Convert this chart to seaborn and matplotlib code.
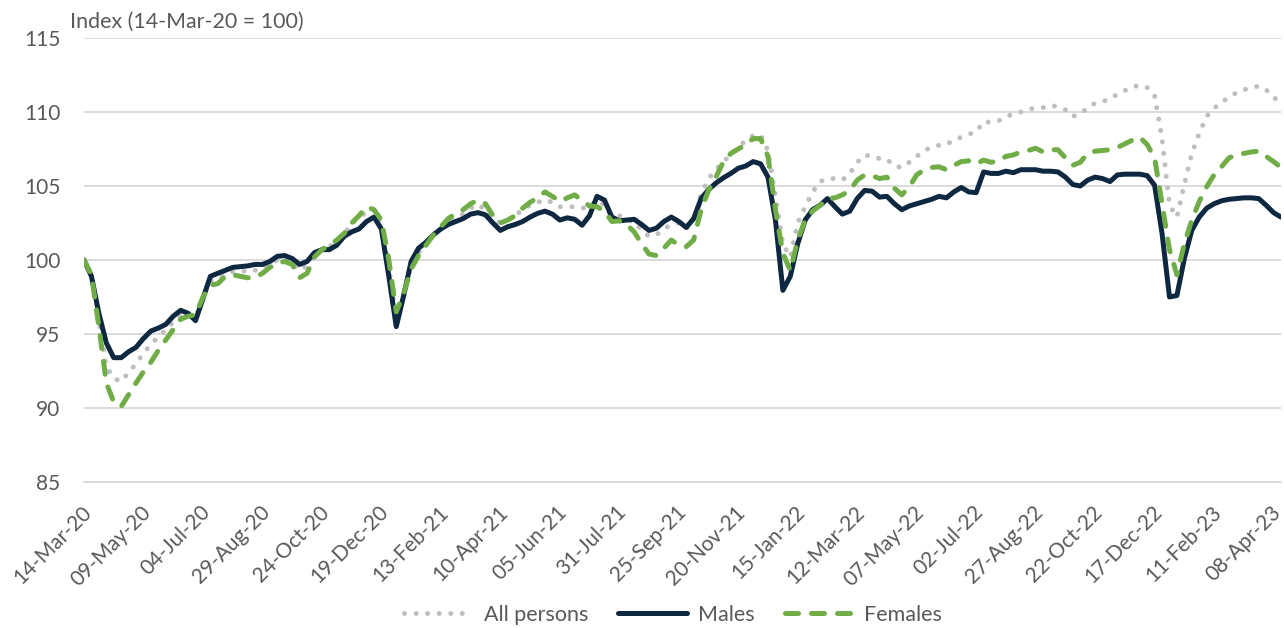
import numpy as np
import pandas as pd
import matplotlib
matplotlib.use("Agg")
import matplotlib.pyplot as plt
import matplotlib.dates as mdates
from matplotlib.lines import Line2D
from matplotlib.transforms import ScaledTranslation
import seaborn as sns

# Weekly payroll jobs index, week ending 14-Mar-20 = 100
start_date = "2020-03-14"

all_persons = [
    100.0, 99.0, 96.0, 92.8, 92.0, 91.8, 92.4, 93.0, 93.7, 94.3,
    94.8, 95.3, 95.8, 96.3, 96.3, 96.1, 97.5, 98.6, 98.8, 99.0,
    99.2, 99.3, 99.2, 99.3, 99.4, 99.7, 100.0, 100.1, 99.9, 99.3,
    99.6, 100.3, 100.7, 100.9, 101.2, 101.7, 102.5, 102.8, 103.3, 103.4,
    102.5, 99.5, 96.0, 97.7, 99.6, 100.5, 101.1, 101.7, 102.2, 102.6,
    102.9, 103.1, 103.5, 103.75, 103.4, 102.8, 102.5, 102.7, 103.0, 103.4,
    103.7, 103.9, 104.05, 103.9, 103.6, 103.6, 103.6, 103.5, 103.6, 104.05,
    103.7, 103.0, 103.0, 102.7, 102.6, 102.0, 101.6, 101.7, 102.1, 102.4,
    102.5, 102.1, 102.7, 104.4, 105.5, 106.1, 106.65, 107.1, 107.65, 108.05,
    108.4, 108.45, 107.4, 104.3, 101.1, 100.2, 102.5, 103.6, 104.6, 105.3,
    105.5, 105.5, 105.4, 105.85, 106.6, 107.1, 107.0, 106.85, 106.8, 106.35,
    106.25, 106.6, 107.0, 107.4, 107.6, 107.75, 107.8, 108.1, 108.3, 108.5,
    108.65, 109.35, 109.3, 109.4, 109.7, 109.85, 110.0, 110.2, 110.25, 110.3,
    110.45, 110.35, 110.15, 109.7, 109.9, 110.25, 110.6, 110.7, 110.9, 111.2,
    111.45, 111.7, 111.8, 111.65, 111.1, 108.2, 103.7, 102.9, 105.1, 107.2,
    108.55, 109.7, 110.25, 110.65, 111.0, 111.3, 111.5, 111.65, 111.75, 111.5,
    111.0, 110.6,
]

males = [
    100.0, 98.9, 96.4, 94.4, 93.4, 93.4, 93.8, 94.1, 94.7, 95.2,
    95.4, 95.65, 96.2, 96.6, 96.4, 95.9, 97.4, 98.9, 99.1, 99.3,
    99.5, 99.55, 99.6, 99.7, 99.7, 99.9, 100.25, 100.3, 100.1, 99.7,
    99.9, 100.5, 100.7, 100.7, 101.0, 101.6, 101.9, 102.1, 102.6, 102.9,
    102.1, 98.9, 95.5, 97.6, 99.9, 100.8, 101.2, 101.7, 102.1, 102.4,
    102.6, 102.8, 103.1, 103.2, 103.05, 102.5, 102.0, 102.25, 102.4, 102.6,
    102.9, 103.15, 103.3, 103.1, 102.7, 102.85, 102.75, 102.35, 103.0, 104.3,
    104.05, 102.9, 102.65, 102.7, 102.75, 102.4, 102.0, 102.15, 102.6, 102.9,
    102.6, 102.2, 102.8, 104.15, 104.75, 105.2, 105.55, 105.85, 106.2, 106.35,
    106.65, 106.5, 105.6, 102.7, 97.95, 98.9, 101.1, 102.7, 103.4, 103.7,
    104.15, 103.6, 103.1, 103.3, 104.15, 104.7, 104.65, 104.25, 104.3, 103.8,
    103.4, 103.65, 103.8, 103.95, 104.1, 104.3, 104.2, 104.6, 104.9, 104.6,
    104.55, 105.95, 105.85, 105.85, 106.0, 105.9, 106.1, 106.1, 106.1, 106.0,
    106.0, 105.95, 105.6, 105.1, 105.0, 105.4, 105.6, 105.5, 105.3, 105.75,
    105.8, 105.8, 105.8, 105.7, 105.05, 101.8, 97.5, 97.6, 100.1, 102.0,
    102.9, 103.5, 103.8, 104.0, 104.1, 104.15, 104.2, 104.2, 104.15, 103.7,
    103.2, 102.9,
]

females = [
    100.0, 99.0, 95.5, 91.7, 90.4, 90.1, 90.9, 91.7, 92.45, 93.1,
    93.9, 94.6, 95.3, 96.0, 96.2, 96.3, 97.5, 98.3, 98.4, 98.9,
    99.0, 98.9, 98.8, 98.8, 99.1, 99.5, 99.8, 99.9, 99.7, 98.8,
    99.1, 100.2, 100.7, 101.0, 101.35, 101.8, 102.5, 103.0, 103.6, 103.4,
    102.7, 100.0, 96.5, 97.75, 99.4, 100.3, 101.0, 101.7, 102.25, 102.8,
    103.15, 103.4, 103.8, 104.05, 103.8, 103.0, 102.5, 102.7, 103.0, 103.5,
    103.9, 104.2, 104.6, 104.3, 103.95, 104.2, 104.4, 104.0, 103.65, 103.6,
    103.3, 102.6, 102.65, 102.4, 101.9, 101.1, 100.4, 100.3, 100.8, 101.35,
    101.0, 100.9, 101.35, 103.4, 104.7, 105.6, 106.65, 107.2, 107.5, 107.8,
    108.2, 108.2, 107.0, 103.4, 100.45, 99.3, 101.35, 102.7, 103.3, 103.7,
    104.15, 104.2, 104.4, 104.7, 105.4, 105.75, 105.7, 105.5, 105.6, 104.85,
    104.4, 104.95, 105.75, 106.1, 106.25, 106.3, 106.1, 106.4, 106.65, 106.7,
    106.5, 106.75, 106.6, 106.7, 107.0, 107.1, 107.3, 107.4, 107.55, 107.3,
    107.45, 107.45, 106.9, 106.4, 106.6, 107.2, 107.35, 107.4, 107.45, 107.6,
    107.85, 108.1, 108.3, 107.8, 106.9, 103.8, 100.7, 99.0, 101.1, 102.7,
    103.95, 104.95, 105.75, 106.3, 106.9, 107.1, 107.2, 107.3, 107.35, 107.0,
    106.65, 106.25,
]

series_names = ["All persons", "Males", "Females"]
y_ticks = [85, 90, 95, 100, 105, 110, 115]
title_text = "Index (14-Mar-20 = 100)"

weeks = pd.date_range(start_date, periods=len(males), freq="7D")
df = pd.DataFrame({
    "week": np.tile(weeks, 3),
    "value": all_persons + males + females,
    "series": np.repeat(series_names, len(weeks)),
})

TEXT = "#595959"
GRID = "#d9d9d9"
colors = {"All persons": "#bfbfbf", "Males": "#0e2841", "Females": "#70ad47"}

sns.set_style("white")
plt.rcParams["font.family"] = ["Lato", "DejaVu Sans"]
FS = 15

fig = plt.figure(figsize=(12.84, 6.28), dpi=100)
ax = fig.add_axes([84 / 1284, 1 - 482 / 628, (1281 - 84) / 1284, (482 - 38) / 628])

styles = {
    "All persons": dict(lw=3.6, linestyle=(0, (0.01, 2.3)), dash_capstyle="round"),
    "Males": dict(lw=3.6, linestyle="-", solid_joinstyle="round",
                  solid_capstyle="round"),
    "Females": dict(lw=3.6, linestyle=(0, (2.6, 2.6)), dash_capstyle="round"),
}

handles = []
for name in series_names:
    sub = df[df["series"] == name]
    sns.lineplot(data=sub, x="week", y="value", ax=ax, color=colors[name],
                 legend=False, **styles[name])
    handles.append(Line2D([], [], color=colors[name], **styles[name]))

ax.set_xlim(weeks[0], weeks[-1])
ax.set_ylim(85, 115)
ax.set_yticks(y_ticks)
ax.yaxis.grid(True, color=GRID, lw=1.3)
ax.set_axisbelow(True)
ax.set_xlabel("")
ax.set_ylabel("")

for s in ["left", "right", "top"]:
    ax.spines[s].set_visible(False)
ax.spines["bottom"].set_color(GRID)
ax.spines["bottom"].set_linewidth(1.3)

# every eighth week gets a tick mark and a slanted date label
tick_weeks = weeks[::8]
ax.set_xticks(tick_weeks)
ax.tick_params(axis="x", length=4, width=1.3, color=GRID, labelbottom=False)
ax.tick_params(axis="y", length=0, labelsize=FS, labelcolor=TEXT, pad=17)

label_tf = ax.get_xaxis_transform() + ScaledTranslation(-0.03, -0.20,
                                                        fig.dpi_scale_trans)
for d in tick_weeks:
    ax.text(mdates.date2num(d), 0, d.strftime("%d-%b-%y"), transform=label_tf,
            rotation=45, ha="right", va="top", rotation_mode="anchor",
            fontsize=FS, color=TEXT, clip_on=False)

fig.text(70 / 1284, 1 - 22 / 628, title_text, fontsize=FS + 0.4, color=TEXT,
         va="center", ha="left")

fig.legend(handles, series_names, loc="center", ncol=3, frameon=False,
           bbox_to_anchor=(673 / 1284, 1 - 615 / 628), fontsize=FS + 0.5,
           labelcolor=TEXT, handlelength=3.2, handletextpad=0.5,
           columnspacing=1.4)

fig.savefig("out.png", dpi=100)
